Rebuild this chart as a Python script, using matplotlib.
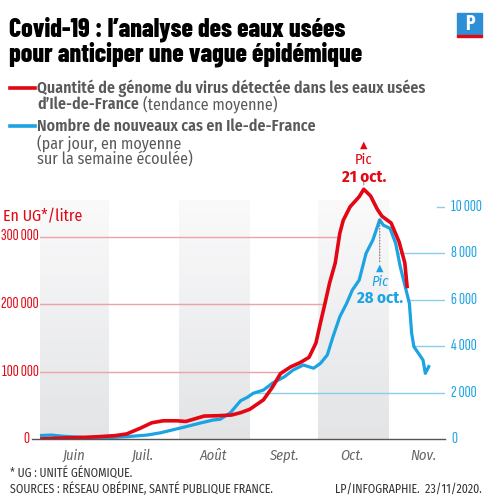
import numpy as np
import matplotlib.pyplot as plt
import matplotlib.transforms as mtransforms
from matplotlib.colors import LinearSegmentedColormap
from matplotlib.patches import Rectangle

# days counted from 1 June 2020
red_days = [0, 10, 20, 26, 33, 38, 44, 49, 54, 60, 64, 68, 72, 78, 84, 88, 92, 98, 102,
            105.5, 110, 114, 118, 121, 123, 125, 127, 129.5, 131.5, 133, 136, 140, 142,
            145, 148, 150, 154, 157.5, 160, 161]
red_vals = [0, 1500, 2500, 3500, 5000, 7500, 16000, 24000, 27000, 27000, 26000, 30000,
            34000, 34500, 35500, 39000, 44000, 58000, 77000, 97000, 107000, 113000, 121000,
            142000, 172000, 201000, 231000, 261000, 305000, 324000, 344000, 359000, 370000,
            360000, 340000, 330000, 320000, 292000, 261000, 226000]

blue_days = [0, 5, 10, 20, 30, 38, 47, 53, 58, 64, 70, 76, 79, 83.5, 88, 91, 93.5, 98, 102,
             107, 111, 115.5, 120, 123, 126, 128.5, 131.5, 134.5, 137, 140, 143, 146, 149,
             150.5, 153.5, 156, 158, 160, 162, 163, 164, 166.5, 168, 169, 170.5]
blue_vals = [150, 170, 120, 60, 60, 100, 170, 270, 390, 530, 680, 820, 850, 1130, 1650,
             1800, 1970, 2110, 2410, 2670, 2970, 3190, 3050, 3260, 3620, 4410, 5270, 5850,
             6420, 6850, 8000, 8580, 9450, 9220, 9080, 8430, 7430, 6640, 5850, 4560, 3980,
             3620, 3400, 2830, 3120]

month_starts = [0, 30, 61, 92, 122, 153]
month_labels = ['Juin', 'Juil.', 'Août', 'Sept.', 'Oct.', 'Nov.']
left_ticks = [0, 100000, 200000, 300000]
right_ticks = [0, 2000, 4000, 6000, 8000, 10000]

RED = '#e30613'
BLUE = '#1ba3e3'
GREY = '#58595b'
COND = ['Fira Sans Condensed', 'DejaVu Sans']
XCOND = ['Sofia Sans Extra Condensed', 'Fira Sans Extra Condensed', 'DejaVu Sans']
TITLE = ['Barlow Condensed', 'DejaVu Sans']

def fmt(v):
    return f'{v:,}'.replace(',', ' ')

fig = plt.figure(figsize=(4.92, 5.0), dpi=100)
W, H = 492, 500
x0, x1, yb, yt = 40, 445, 439, 180
ax = fig.add_axes([x0 / W, 1 - yb / H, (x1 - x0) / W, (yb - yt) / H])
px_day = 2.28
xmax = (x1 - x0) / px_day
left_max = (yb - yt) / 67.5 * 100000
right_max = (yb - yt) / 23.2 * 1000
scale = left_max / right_max
ax.axis('off')

# shaded month bands with vertical gradient
cmap = LinearSegmentedColormap.from_list('band', ['#e3e4e6', '#fafafb'])
grad = np.linspace(0, 1, 256).reshape(-1, 1)
band_top = 354000
for i in (0, 2, 4):
    ax.imshow(grad, extent=[month_starts[i], month_starts[i + 1], 0, band_top],
              origin='lower', cmap=cmap, aspect='auto', zorder=0)
ax.set_xlim(0, xmax)
ax.set_ylim(0, left_max)

# red gridlines from left edge to the curve
rd = np.array(red_days); rv = np.array(red_vals)
ipk = np.argmax(rv)
for t in left_ticks[1:]:
    xc = np.interp(t, rv[:ipk + 1], rd[:ipk + 1])
    ax.plot([0, xc], [t, t], color='#eaa3a6', lw=1.0, zorder=1)

# blue gridlines from the curve to the right edge
bd = np.array(blue_days); bv = np.array(blue_vals)
jpk = np.argmax(bv)
for t in right_ticks[1:]:
    if bv.max() < t:
        xc = xmax - 8 / px_day
    else:
        k = np.where(bv >= t)[0][-1]
        if k + 1 < len(bv):
            xc = np.interp(t, [bv[k + 1], bv[k]], [bd[k + 1], bd[k]])
        else:
            j = np.where(bv < t)[0][-1]
            xc = np.interp(t, [bv[j], bv[j + 1]], [bd[j], bd[j + 1]])
    ax.plot([xc, xmax], [t * scale] * 2, color='#8ccdee', lw=1.0, zorder=1)

ax.plot(bd, bv * scale, color=BLUE, lw=2.3, zorder=3, solid_joinstyle='round')
ax.plot(rd, rv, color=RED, lw=2.6, zorder=4, solid_joinstyle='round')

# baseline
tr = mtransforms.blended_transform_factory(ax.transAxes, ax.transData)
ax.plot([-8 / (x1 - x0), 1], [0, 0], color='#555555', lw=1.0, transform=tr,
        clip_on=False, zorder=5)

# tick labels
off = mtransforms.offset_copy
for t in left_ticks:
    dx = -11 if t == 0 else -1
    ax.text(0, t, fmt(t), transform=off(tr, fig=fig, x=dx, y=0, units='dots'),
            ha='right', va='center', color=RED, fontsize=12, fontweight='normal',
            family=XCOND)
for t in right_ticks:
    ax.text(1, t * scale, fmt(t), transform=off(tr, fig=fig, x=6, y=0, units='dots'),
            ha='left', va='center', color=BLUE, fontsize=12, fontweight='normal',
            family=XCOND)
fig.text(3 / W, 1 - 217 / H, 'En UG*/litre', color=RED, fontsize=11.5,
         family=COND, va='center', ha='left')

for i, lab in enumerate(month_labels):
    ax.text(month_starts[i] + 15, 0, lab,
            transform=off(ax.transData, fig=fig, x=0, y=-17, units='dots'),
            ha='center', va='center', color='#666666', fontsize=10.5, style='italic',
            fontweight='normal', family=COND)

# peak annotations
pk_tr = lambda dy: off(ax.transData, fig=fig, x=0, y=dy, units='dots')
ax.annotate('', xy=(rd[ipk], rv[ipk]), xytext=(0, 9), textcoords='offset pixels',
            arrowprops=dict(arrowstyle='-', color='#999999', lw=0.8,
                            shrinkA=0, shrinkB=3))
ax.text(rd[ipk], rv[ipk], '▲', transform=pk_tr(44), ha='center', va='center',
        color=RED, fontsize=7, family=['DejaVu Sans'])
ax.text(rd[ipk], rv[ipk], 'Pic', transform=pk_tr(29), ha='center', va='center',
        color=RED, fontsize=10.5, family=COND)
ax.text(rd[ipk], rv[ipk], '21 oct.', transform=pk_tr(12), ha='center', va='center',
        color=RED, fontsize=12, fontweight='bold', family=COND)

bpy = bv[jpk] * scale
ax.annotate('', xy=(bd[jpk], bpy), xytext=(0, -42), textcoords='offset pixels',
            arrowprops=dict(arrowstyle='-', color='#777777', lw=0.8, linestyle=':',
                            shrinkA=0, shrinkB=0))
ax.text(bd[jpk], bpy, '▲', transform=pk_tr(-48), ha='center', va='center',
        color=BLUE, fontsize=7, family=['DejaVu Sans'])
ax.text(bd[jpk], bpy, 'Pic', transform=pk_tr(-62), ha='center', va='center',
        color=BLUE, fontsize=10.5, style='italic', family=COND)
ax.text(bd[jpk], bpy, '28 oct.', transform=pk_tr(-79), ha='center', va='center',
        color=BLUE, fontsize=12, fontweight='bold', family=COND)

# title
fig.text(9 / W, 1 - 29 / H, "Covid-19 : l\u2019analyse des eaux usées", fontsize=18.5,
         fontweight=800, family=TITLE, va='center', color='black')
fig.text(9 / W, 1 - 54 / H, "pour anticiper une vague épidémique", fontsize=18.5,
         fontweight=800, family=TITLE, va='center', color='black')

# logo
fig.patches.append(Rectangle((457 / W, 1 - 35 / H), 25 / W, 22 / H, color='#2d8fd5',
                             transform=fig.transFigure, figure=fig))
fig.patches.append(Rectangle((457 / W, 1 - 37 / H), 25 / W, 2 / H, color=RED,
                             transform=fig.transFigure, figure=fig))
fig.text(469.5 / W, 1 - 24 / H, 'P', color='white', fontsize=15, fontweight='bold',
         family=TITLE, ha='center', va='center')

# legend
fig.lines.append(plt.Line2D([10 / W, 35 / W], [1 - 88 / H] * 2, color=RED, lw=2.6,
                            transform=fig.transFigure))
fig.lines.append(plt.Line2D([10 / W, 35 / W], [1 - 126 / H] * 2, color=BLUE, lw=2.6,
                            transform=fig.transFigure))
leg_kw = dict(fontsize=11.5, color=GREY, family=COND, va='center')
fig.text(37 / W, 1 - 88 / H, 'Quantité de génome du virus détectée dans les eaux usées',
         fontweight='semibold', **leg_kw)
t1 = fig.text(37 / W, 1 - 104 / H, 'd\u2019Ile-de-France', fontweight='semibold', **leg_kw)
fig.text(37 / W, 1 - 126 / H, 'Nombre de nouveaux cas en Ile-de-France',
         fontweight='semibold', **leg_kw)
fig.text(37 / W, 1 - 143 / H, '(par jour, en moyenne', fontweight='normal', **leg_kw)
fig.text(37 / W, 1 - 159 / H, 'sur la semaine écoulée)', fontweight='normal', **leg_kw)
fig.canvas.draw()
bb = t1.get_window_extent()
fig.text((bb.x1 + 4) / W, 1 - 104 / H, '(tendance moyenne)', fontweight='normal', **leg_kw)

# footer
foot = dict(fontsize=8.6, color='#333333', family=COND, fontweight='normal', va='center')
fig.text(10 / W, 1 - 474 / H, '* UG : UNITÉ GÉNOMIQUE.', **foot)
fig.text(10 / W, 1 - 489 / H, 'SOURCES : RÉSEAU OBÉPINE, SANTÉ PUBLIQUE FRANCE.', **foot)
fig.text(482 / W, 1 - 489 / H, 'LP/INFOGRAPHIE.  23/11/2020.', ha='right', **foot)

fig.savefig('out.png', dpi=100)
